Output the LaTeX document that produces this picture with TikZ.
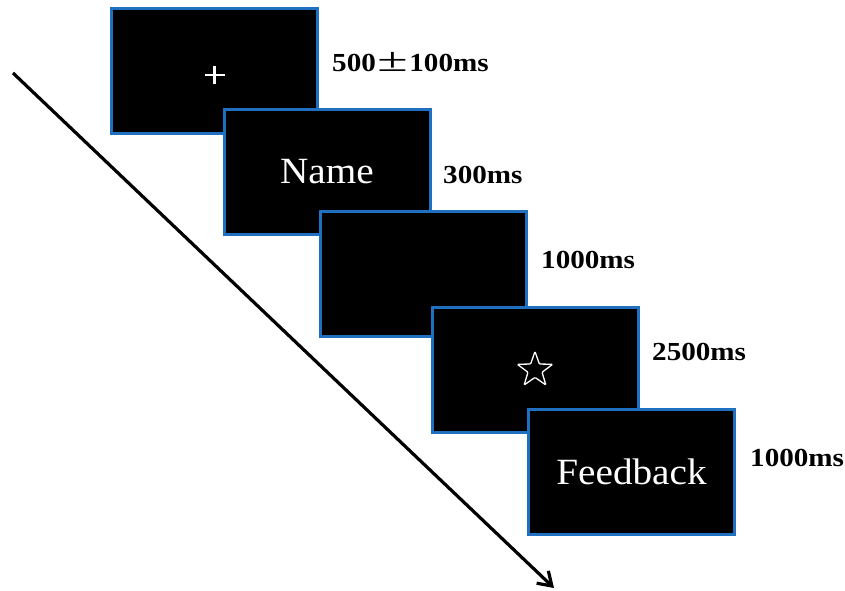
\documentclass[tikz,border=0pt]{standalone}
\usepackage{fontspec}
\setmainfont{Liberation Serif}
\usetikzlibrary{arrows.meta,shapes.geometric}
\definecolor{frameblue}{RGB}{31,112,192}
\tikzset{
  screen/.style={draw=frameblue, fill=black, line width=3pt, minimum width=206pt, minimum height=125pt, inner sep=0pt},
  dur/.style={anchor=west, inner sep=0pt, font=\fontsize{26}{30}\selectfont\bfseries, xscale=1.12},
  word/.style={text=white, inner sep=0pt, font=\fontsize{37}{42}\selectfont, xscale=1.06},
  timeline/.style={line width=3.2pt, -{Straight Barb[length=13pt,width=17pt,line width=3.2pt]}}
}
\begin{document}
\begin{tikzpicture}[x=1pt,y=-1pt]
\useasboundingbox (0,0) rectangle (845,590);
% time arrow
\coordinate (tstart) at (13,73);
\coordinate (tend) at (554,588);
\draw[timeline] (tstart) -- (tend);
% screens
\node[screen] (s1) at (214.5,71) {};
\draw[white, line width=2.8pt] ([xshift=-10pt,yshift=-4pt]s1.center) -- ([xshift=10pt,yshift=-4pt]s1.center);
\draw[white, line width=2.8pt] ([yshift=-13pt]s1.center) -- ([yshift=5pt]s1.center);
\node[screen] (s2) at (327,171.5) {};
\node[word] (name) at (s2.center) {Name};
\node[screen] (s3) at (423,274) {};
\node[screen] (s4) at (535.5,370) {};
\node[star, star points=5, star point ratio=2.5, minimum size=37pt, draw=white, line width=1.3pt, rounded corners=1pt, inner sep=0pt] (star) at (535,370) {};
\node[screen] (s5) at (631.5,472) {};
\node[word] (fb) at (s5.center) {Feedback};
% durations
\node[dur] (d1) at (332,62) {500\makebox[1.15em]{\scalebox{1.9}[1.3]{\mdseries ±}}100ms};
\node[dur] (d2) at (443,175) {300ms};
\node[dur] (d3) at (541,260) {1000ms};
\node[dur] (d4) at (652,352) {2500ms};
\node[dur] (d5) at (750,458) {1000ms};
\end{tikzpicture}
\end{document}
